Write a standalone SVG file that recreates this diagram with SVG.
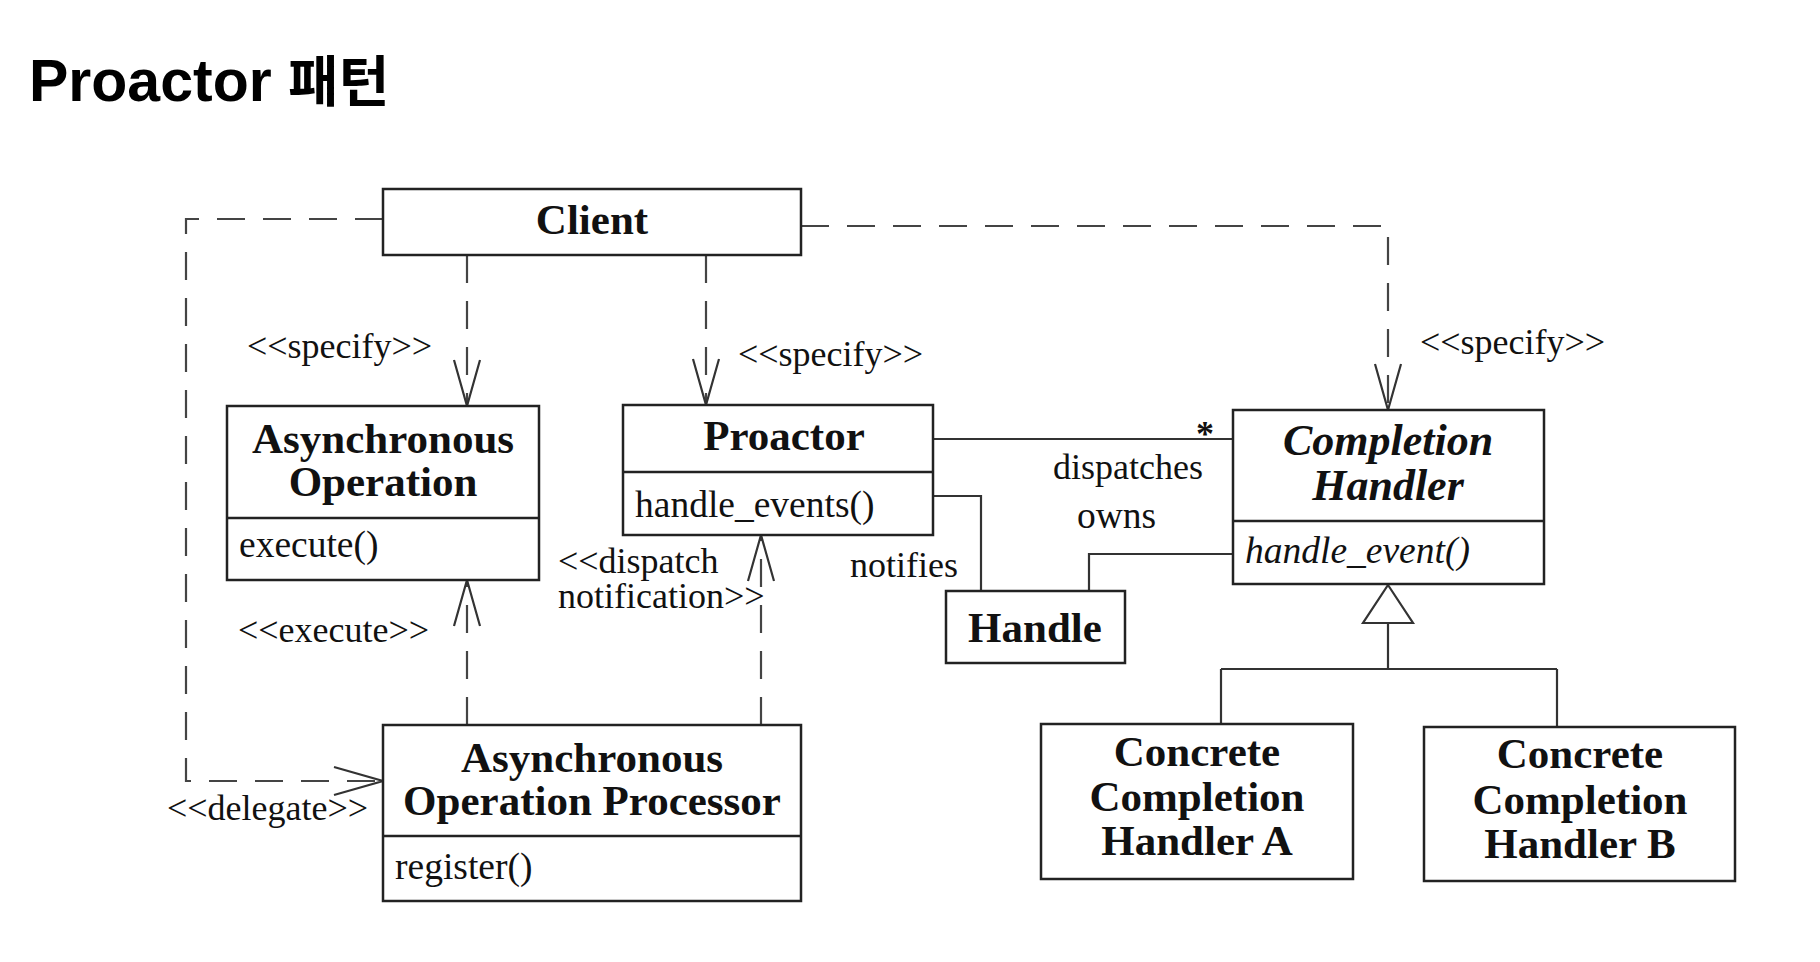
<svg xmlns="http://www.w3.org/2000/svg" width="1820" height="962" viewBox="0 0 1820 962">
<style>
.box{fill:#fff;stroke:#222;stroke-width:2.5}
.div{stroke:#222;stroke-width:2.5}
.b{font-family:"Liberation Serif","Times New Roman",serif;font-weight:bold;font-size:43px;fill:#111;text-anchor:middle}
.bi{font-style:italic;font-size:44px}
.r{font-family:"Liberation Serif","Times New Roman",serif;font-size:36px;fill:#111}
.m{font-size:37.5px}
.dash{fill:none;stroke:#444;stroke-width:2.2;stroke-dasharray:28 18}
.solid{fill:none;stroke:#333;stroke-width:2.2}
.head{fill:none;stroke:#333;stroke-width:2.2}
</style>
<rect width="1820" height="962" fill="#fff"/>
<text x="29" y="101" font-family="'Liberation Sans','Noto Sans CJK KR',sans-serif" font-weight="bold" font-size="59" fill="#000">Proactor <tspan font-size="55">패턴</tspan></text>

<g id="connectors">
  <!-- Client -> Asynchronous Operation Processor (delegate) -->
  <path class="dash" d="M383,219 H186 V781 H380"/>
  <path class="head" d="M334,767 L383,781 L334,795"/>
  <!-- Client -> Asynchronous Operation (specify) -->
  <path class="dash" d="M467,255 V404"/>
  <path class="head" d="M454,360 L467,406 L480,360"/>
  <!-- Client -> Proactor (specify) -->
  <path class="dash" d="M706,255 V403"/>
  <path class="head" d="M693,359 L706,405 L719,359"/>
  <!-- Client -> Completion Handler (specify) -->
  <path class="dash" d="M801,226 H1388 V408"/>
  <path class="head" d="M1375,364 L1388,410 L1401,364"/>
  <!-- AOP -> Asynchronous Operation (execute) -->
  <path class="dash" d="M467,725 V582"/>
  <path class="head" d="M454,626 L467,580 L480,626"/>
  <!-- AOP -> Proactor (dispatch notification) -->
  <path class="dash" d="M761,725 V537"/>
  <path class="head" d="M748,581 L761,535 L774,581"/>
  <!-- Proactor - Completion Handler (dispatches) -->
  <path class="solid" d="M933,439 H1233"/>
  <!-- Proactor - Handle (notifies) -->
  <path class="solid" d="M933,496 H981 V591"/>
  <!-- Completion Handler - Handle (owns) -->
  <path class="solid" d="M1089,591 V554 H1233"/>
  <!-- Generalization -->
  <path class="solid" d="M1388,623 V669 M1221,669 H1557 M1221,669 V724 M1557,669 V727"/>
  <path fill="#fff" stroke="#333" stroke-width="2.2" d="M1388,585 L1413,623 L1363,623 Z"/>
  <!-- labels -->
  <text class="r" x="247" y="358">&lt;&lt;specify&gt;&gt;</text>
  <text class="r" x="738" y="366">&lt;&lt;specify&gt;&gt;</text>
  <text class="r" x="1420" y="354">&lt;&lt;specify&gt;&gt;</text>
  <text class="r" x="238" y="642" font-size="37">&lt;&lt;execute&gt;&gt;</text>
  <text class="r" x="167" y="820" font-size="37">&lt;&lt;delegate&gt;&gt;</text>
  <text class="r" x="558" y="573" font-size="36.5">&lt;&lt;dispatch</text>
  <text class="r" x="558" y="608" font-size="37">notification&gt;&gt;</text>
  <text class="r" x="1053" y="479" font-size="39">dispatches</text>
  <text class="r m" x="1077" y="528">owns</text>
  <text class="r" x="850" y="577" font-size="38">notifies</text>
  <text class="r" x="1196" y="446" font-size="40" font-weight="bold">*</text>
</g>

<g id="client">
  <rect class="box" x="383" y="189" width="418" height="66"/>
  <text class="b" x="592" y="234">Client</text>
</g>

<g id="async-operation">
  <rect class="box" x="227" y="406" width="312" height="174"/>
  <line class="div" x1="227" y1="518" x2="539" y2="518"/>
  <text class="b" x="383" y="453">Asynchronous</text>
  <text class="b" x="383" y="496">Operation</text>
  <text class="r m" x="239" y="557">execute()</text>
</g>

<g id="proactor">
  <rect class="box" x="623" y="405" width="310" height="130"/>
  <line class="div" x1="623" y1="472" x2="933" y2="472"/>
  <text class="b" x="784" y="450">Proactor</text>
  <text class="r m" x="635" y="517">handle_events()</text>
</g>

<g id="completion-handler">
  <rect class="box" x="1233" y="410" width="311" height="174"/>
  <line class="div" x1="1233" y1="521" x2="1544" y2="521"/>
  <text class="b bi" x="1388" y="455">Completion</text>
  <text class="b bi" x="1388" y="500">Handler</text>
  <text class="r m" x="1245" y="563" font-style="italic">handle_event()</text>
</g>

<g id="handle">
  <rect class="box" x="946" y="591" width="179" height="72"/>
  <text class="b" x="1035" y="642">Handle</text>
</g>

<g id="async-operation-processor">
  <rect class="box" x="383" y="725" width="418" height="176"/>
  <line class="div" x1="383" y1="836" x2="801" y2="836"/>
  <text class="b" x="592" y="772">Asynchronous</text>
  <text class="b" x="592" y="815">Operation Processor</text>
  <text class="r m" x="395" y="879">register()</text>
</g>

<g id="concrete-a">
  <rect class="box" x="1041" y="724" width="312" height="155"/>
  <text class="b" x="1197" y="766">Concrete</text>
  <text class="b" x="1197" y="811">Completion</text>
  <text class="b" x="1197" y="855">Handler A</text>
</g>

<g id="concrete-b">
  <rect class="box" x="1424" y="727" width="311" height="154"/>
  <text class="b" x="1580" y="768">Concrete</text>
  <text class="b" x="1580" y="814">Completion</text>
  <text class="b" x="1580" y="858">Handler B</text>
</g>
</svg>
